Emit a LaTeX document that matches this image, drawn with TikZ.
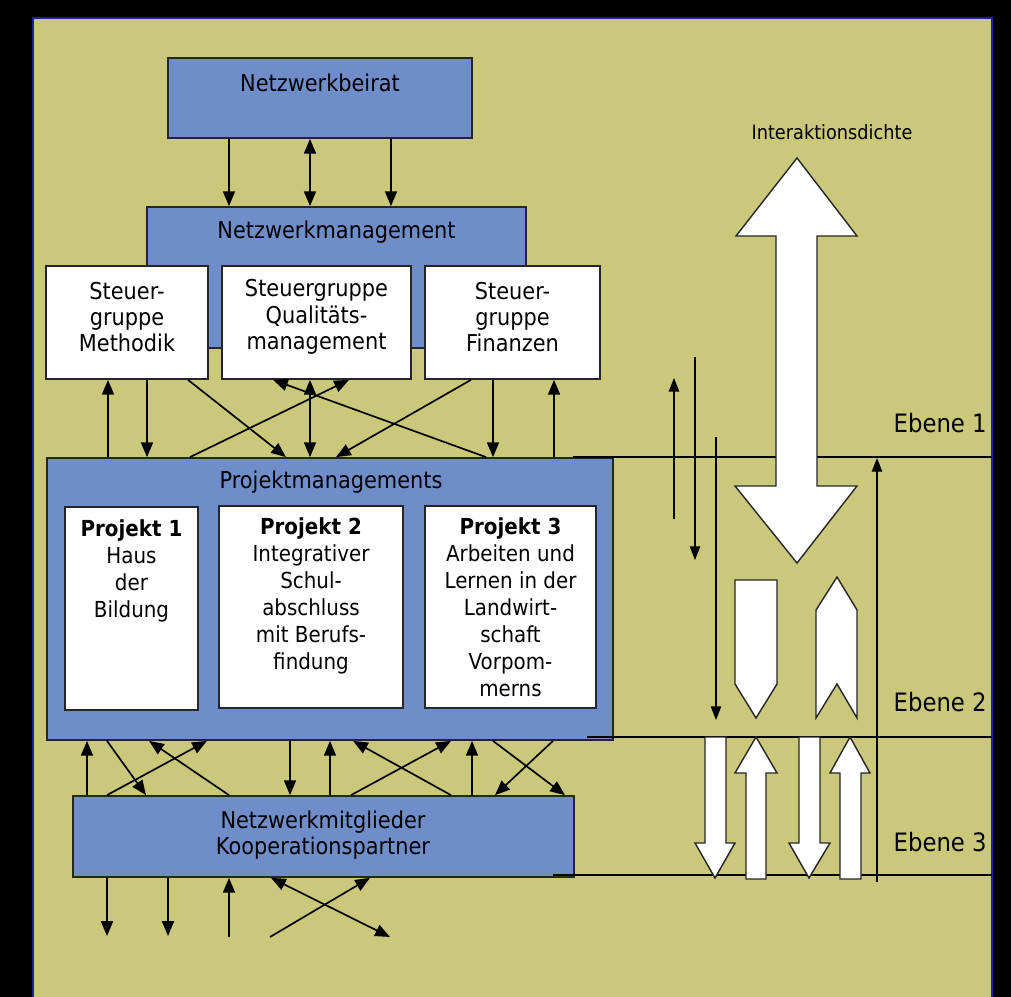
\documentclass[tikz,border=0pt]{standalone}
\usepackage{fontspec}
\setmainfont{DejaVu Sans}[FakeStretch=0.9]
\usetikzlibrary{arrows.meta,positioning}
\definecolor{bgolive}{RGB}{201,200,123}
\definecolor{boxblue}{RGB}{111,141,200}
\definecolor{edgeblue}{RGB}{30,30,160}

\begin{document}
\begin{tikzpicture}[x=0.025cm,y=-0.025cm,
  box/.style={draw=black!85, line width=1.2pt, inner sep=0pt},
  bluebox/.style={box, fill=boxblue},
  whitebox/.style={box, fill=white},
  txt/.style={font=\fontsize{16.5}{18.8}\selectfont, align=center, inner sep=0pt},
  ptxt/.style={font=\fontsize{15.7}{19.2}\selectfont, align=center, inner sep=0pt},
  arr/.style={line width=1.2pt, -{Triangle[length=0.37cm,width=0.3cm]}},
  darr/.style={line width=1.2pt, {Triangle[length=0.37cm,width=0.3cm]}-{Triangle[length=0.37cm,width=0.3cm]}},
  thin/.style={line width=0.8pt, -{Triangle[length=0.34cm,width=0.26cm]}},
  block/.style={draw=black!85, line width=1pt, fill=white},
  level/.style={line width=0.8pt}]
\useasboundingbox (0,0) rectangle (1011,997);
\fill[black] (0,0) rectangle (1011,997);
\fill[bgolive] (33,18) rectangle (992,997);
\draw[edgeblue, line width=0.8pt] (33,997) -- (33,18) -- (992,18) -- (992,997);

% boxes
\node[bluebox, minimum width=7.6cm, minimum height=2cm] (beirat) at (320,98) {};
\node[txt] (beiratlbl) at (320,83) {Netzwerkbeirat};
\node[bluebox, minimum width=9.475cm, minimum height=3.525cm] (netzm) at (336.5,277.5) {};
\node[txt] (netzmlbl) at (336.5,232) {Netzwerkmanagement};
\node[whitebox, minimum width=4.05cm, minimum height=2.825cm] (sgmeth) at (127,322.5) {};
\node[txt] (sgmethlbl) at (127,317) {Steuer-\\gruppe\\Methodik};
\node[whitebox, minimum width=4.725cm, minimum height=2.825cm] (sgqual) at (316.5,322.5) {};
\node[txt] (sgquallbl) at (316.5,317) {Steuergruppe\\Qualitäts-\\management};
\node[whitebox, minimum width=4.375cm, minimum height=2.825cm] (sgfin) at (512.5,322.5) {};
\node[txt] (sgfinlbl) at (512.5,317) {Steuer-\\gruppe\\Finanzen};

\node[bluebox, minimum width=14.15cm, minimum height=7.05cm] (projm) at (330,599) {};
\node[txt] (projmlbl) at (331,482) {Projektmanagements};
\node[whitebox, minimum width=3.325cm, minimum height=5.075cm] (proj1) at (131.5,608.5) {};
\node[ptxt, anchor=north] (proj1lbl) at (131.5,519) {\textbf{Projekt 1}\\Haus\\der\\Bildung};
\node[whitebox, minimum width=4.6cm, minimum height=5.05cm] (proj2) at (311,607) {};
\node[ptxt, anchor=north] (proj2lbl) at (311,517) {\textbf{Projekt 2}\\Integrativer\\Schul-\\abschluss\\mit Berufs-\\findung};
\node[whitebox, minimum width=4.275cm, minimum height=5.05cm] (proj3) at (510.5,607) {};
\node[ptxt, anchor=north] (proj3lbl) at (510.5,517) {\textbf{Projekt 3}\\Arbeiten und\\Lernen in der\\Landwirt-\\schaft\\Vorpom-\\merns};

\node[bluebox, minimum width=12.525cm, minimum height=2.025cm] (mitgl) at (323.5,836.5) {};
\node[txt] (mitgllbl) at (323,835) {Netzwerkmitglieder\\Kooperationspartner};

% Beirat - Netzwerkmanagement
\draw[arr] (beirat.south -| 229,0) -- (netzm.north -| 229,0);
\draw[darr] (beirat.south -| 310,0) -- (netzm.north -| 310,0);
\draw[arr] (beirat.south -| 391,0) -- (netzm.north -| 391,0);

% Steuergruppen - Projektmanagements
\draw[arr] (projm.north -| 108,0) -- (sgmeth.south -| 108,0);
\draw[arr] (sgmeth.south -| 147,0) -- (projm.north -| 147,0);
\draw[arr] (sgmeth.south -| 188,0) -- (projm.north -| 286,0);
\draw[arr] (projm.north -| 190,0) -- (sgqual.south -| 349,0);
\draw[darr] (sgqual.south -| 310,0) -- (projm.north -| 310,0);
\draw[arr] (projm.north -| 486,0) -- (sgqual.south -| 273,0);
\draw[arr] (sgfin.south -| 471,0) -- (projm.north -| 336,0);
\draw[arr] (sgfin.south -| 493,0) -- (projm.north -| 493,0);
\draw[arr] (projm.north -| 554,0) -- (sgfin.south -| 554,0);

% Projektmanagements - Netzwerkmitglieder
\draw[arr] (mitgl.north -| 87,0) -- (projm.south -| 87,0);
\draw[arr] (projm.south -| 107,0) -- (mitgl.north -| 146,0);
\draw[arr] (mitgl.north -| 107,0) -- (projm.south -| 207,0);
\draw[arr] (mitgl.north -| 229,0) -- (projm.south -| 149,0);
\draw[arr] (projm.south -| 290,0) -- (mitgl.north -| 290,0);
\draw[arr] (mitgl.north -| 330,0) -- (projm.south -| 330,0);
\draw[arr] (mitgl.north -| 451,0) -- (projm.south -| 353,0);
\draw[arr] (mitgl.north -| 351,0) -- (projm.south -| 451,0);
\draw[arr] (mitgl.north -| 472,0) -- (projm.south -| 472,0);
\draw[arr] (projm.south -| 553,0) -- (mitgl.north -| 495,0);
\draw[arr] (projm.south -| 493,0) -- (mitgl.north -| 565,0);

% Netzwerkmitglieder - outside
\coordinate (out1) at (107,936);
\coordinate (out2) at (168,936);
\coordinate (in1) at (229,937);
\coordinate (in2) at (270,937);
\coordinate (out3) at (390,937);
\draw[arr] (mitgl.south -| out1) -- (out1);
\draw[arr] (mitgl.south -| out2) -- (out2);
\draw[arr] (in1) -- (mitgl.south -| in1);
\draw[arr] (in2) -- (mitgl.south -| 370,0);
\draw[darr] (mitgl.south -| 271,0) -- (out3);

% Ebenen
\draw[level] (573,457) -- (992,457);
\draw[level] (587,737) -- (992,737);
\draw[level] (553,875) -- (992,875);
\node[font=\fontsize{18}{20}\selectfont, anchor=east, inner sep=0pt] (ebene1) at (987,423) {Ebene 1};
\node[font=\fontsize{18}{20}\selectfont, anchor=east, inner sep=0pt] (ebene2) at (987,702) {Ebene 2};
\node[font=\fontsize{18}{20}\selectfont, anchor=east, inner sep=0pt] (ebene3) at (987,842) {Ebene 3};
\node[font=\fontsize{14}{16}\selectfont, inner sep=0pt] (dichte) at (832,132) {Interaktionsdichte};

% thin arrows
\draw[thin] (674,519) -- (674,378);
\draw[thin] (695,357) -- (695,560);
\draw[thin] (716,437) -- (716,720);
\draw[thin] (877,882) -- (877,458);

% block arrows
\draw[block] (797,158) -- (857,236) -- (817,236) -- (817,486) -- (857,486) -- (797,563)
  -- (735,486) -- (776,486) -- (776,236) -- (736,236) -- cycle;
\draw[block] (735,580) -- (777,580) -- (777,684) -- (756,718) -- (735,684) -- cycle;
\draw[block] (837,577) -- (857,610) -- (857,718) -- (837,684) -- (816,718) -- (816,610) -- cycle;
\draw[block] (705,737) -- (726,737) -- (726,843) -- (735,843) -- (715,878) -- (695,843) -- (705,843) -- cycle;
\draw[block] (756,737) -- (777,773) -- (766,773) -- (766,879) -- (746,879) -- (746,773) -- (735,773) -- cycle;
\draw[block] (799,737) -- (820,737) -- (820,843) -- (830,843) -- (809,878) -- (789,843) -- (799,843) -- cycle;
\draw[block] (850,737) -- (870,773) -- (861,773) -- (861,879) -- (840,879) -- (840,773) -- (830,773) -- cycle;
\end{tikzpicture}
\end{document}
